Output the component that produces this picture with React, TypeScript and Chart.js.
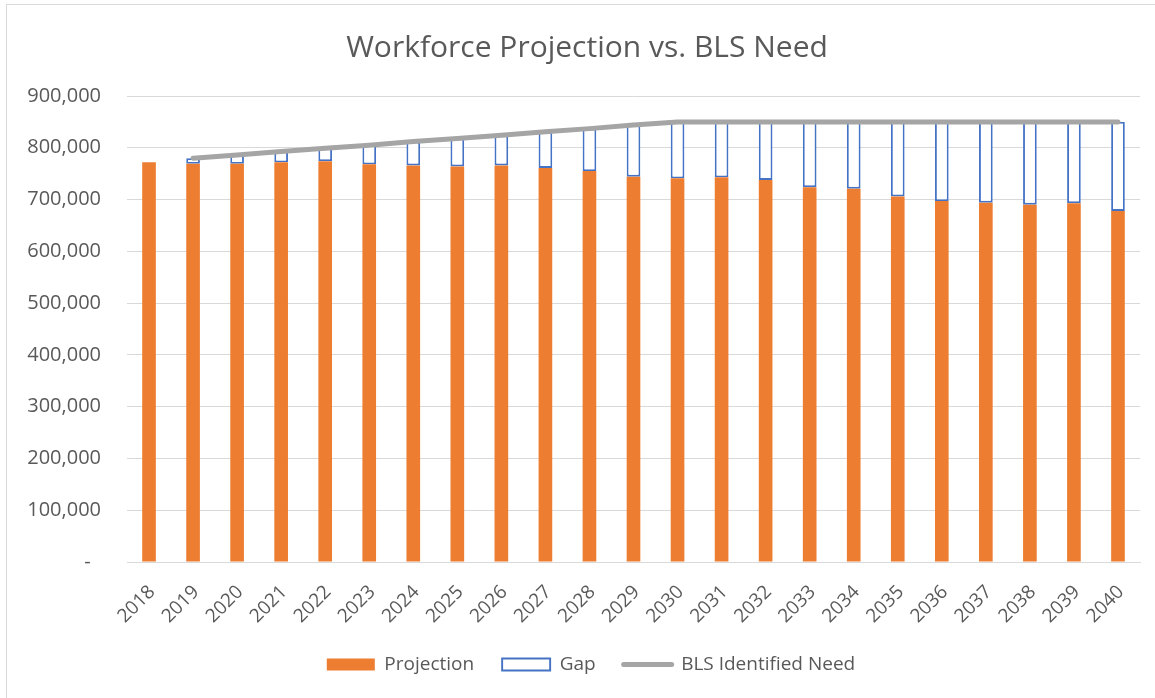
import React, { useEffect, useRef } from "react";
import { Chart, registerables } from "chart.js";

Chart.register(...registerables);

const years = [
  "2018", "2019", "2020", "2021", "2022", "2023", "2024", "2025", "2026", "2027", "2028", "2029",
  "2030", "2031", "2032", "2033", "2034", "2035", "2036", "2037", "2038", "2039", "2040",
];

const projection = [
  772000, 769000, 769000, 772000, 774000, 768000, 766000, 764000, 766000, 761000, 755000, 744000,
  741000, 743000, 738000, 724000, 721000, 706000, 697000, 694000, 690000, 693000, 678000,
];

const gap = [
  null, 11000, 17000, 21000, 25000, 37000, 46000, 54000, 58000, 70000, 82000, 100000,
  109000, 107000, 112000, 126000, 129000, 144000, 153000, 156000, 160000, 157000, 172000,
];

const blsNeed = [
  null, 780000, 786000, 793000, 799000, 805000, 812000, 818000, 824000, 831000, 837000, 844000,
  850000, 850000, 850000, 850000, 850000, 850000, 850000, 850000, 850000, 850000, 850000,
];

const seriesNames = ["Projection", "Gap", "BLS Identified Need"];
const yMax = 900000;
const yStep = 100000;

const TEXT = "#595959";
const GRID = "#D9D9D9";
const ORANGE = "#ED7D31";
const BLUE = "#4472C4";
const GRAY = "#A5A5A5";
const FONT = "'Open Sans', 'Noto Sans', sans-serif";

const shiftBlocks = {
  id: "shiftBlocks",
  afterLayout(chart: any) {
    if (chart.legend) {
      chart.legend.left += 21;
      chart.legend.right += 21;
    }
    if (chart.titleBlock) {
      chart.titleBlock.left += 17;
      chart.titleBlock.right += 17;
    }
  },
};

export default function App() {
  const ref = useRef<HTMLCanvasElement | null>(null);

  useEffect(() => {
    if (!ref.current) return;
    const chart = new Chart(ref.current, {
      type: "bar",
      plugins: [shiftBlocks],
      data: {
        labels: years,
        datasets: [
          {
            type: "line",
            label: seriesNames[2],
            data: blsNeed,
            borderColor: GRAY,
            backgroundColor: GRAY,
            borderWidth: 5,
            borderCapStyle: "round",
            borderJoinStyle: "round",
            pointRadius: 0,
            pointHoverRadius: 0,
            stack: "need",
            order: 0,
          } as any,
          {
            label: seriesNames[0],
            data: projection,
            backgroundColor: ORANGE,
            borderWidth: 0,
            stack: "bars",
            order: 1,
            categoryPercentage: 1,
            barPercentage: 0.31,
          },
          {
            label: seriesNames[1],
            data: gap,
            backgroundColor: "#FFFFFF",
            borderColor: BLUE,
            borderWidth: 1.9,
            borderSkipped: false,
            stack: "bars",
            order: 1,
            categoryPercentage: 1,
            barPercentage: 0.31,
          },
        ],
      },
      options: {
        responsive: false,
        animation: false,
        layout: { padding: { left: 0, right: 15, top: 0, bottom: 14 } },
        plugins: {
          tooltip: { enabled: false },
          title: {
            display: true,
            text: "Workforce Projection vs. BLS Need",
            color: TEXT,
            font: { family: FONT, size: 30, weight: "normal" },
            padding: { top: 30, bottom: 30 },
          },
          legend: {
            position: "bottom",
            labels: {
              color: TEXT,
              font: { family: FONT, size: 19 },
              usePointStyle: true,
              pointStyleWidth: 48,
              boxHeight: 12,
              padding: 28,
              generateLabels: (c: any) => {
                const order = [1, 2, 0];
                return order.map((i) => {
                  const ds: any = c.data.datasets[i];
                  if (i === 0) {
                    return {
                      text: ds.label, datasetIndex: i, hidden: false,
                      fillStyle: GRAY, strokeStyle: GRAY, lineWidth: 5,
                      pointStyle: "line", lineCap: "round", fontColor: TEXT,
                    };
                  }
                  if (i === 1) {
                    return {
                      text: ds.label, datasetIndex: i, hidden: false,
                      fillStyle: ORANGE, strokeStyle: ORANGE, lineWidth: 0,
                      pointStyle: "rect", fontColor: TEXT,
                    };
                  }
                  return {
                    text: ds.label, datasetIndex: i, hidden: false,
                    fillStyle: "#FFFFFF", strokeStyle: BLUE, lineWidth: 1.9,
                    pointStyle: "rect", fontColor: TEXT,
                  };
                });
              },
            },
          },
        },
        scales: {
          x: {
            stacked: true,
            grid: { display: false, drawTicks: false },
            border: { display: true, color: GRID, width: 1 },
            ticks: {
              color: TEXT,
              font: { family: FONT, size: 19 },
              maxRotation: 45,
              minRotation: 45,
              autoSkip: false,
              padding: 19,
              labelOffset: 3,
            },
            afterFit: (s: any) => {
              s.height = 65;
            },
          },
          y: {
            stacked: true,
            min: 0,
            max: yMax,
            grid: { color: GRID, lineWidth: 1, drawTicks: false },
            border: { display: false },
            ticks: {
              stepSize: yStep,
              color: TEXT,
              font: { family: FONT, size: 20 },
              padding: 26,
              callback: (v: any) => (Number(v) === 0 ? "-  " : Number(v).toLocaleString("en-US")),
            },
            afterFit: (s: any) => {
              s.width = 127;
            },
          },
        },
      } as any,
    });
    return () => chart.destroy();
  }, []);

  return (
    <div style={{ position: "absolute", left: 0, top: 0, width: 1155, height: 698, background: "#FFFFFF", overflow: "hidden" }}>
      <div
        style={{
          position: "absolute", left: 6, top: 4, width: 1149, height: 694,
          borderLeft: `1px solid ${GRID}`, borderTop: `1px solid ${GRID}`, boxSizing: "border-box",
        }}
      />
      <canvas ref={ref} width={1155} height={698} style={{ position: "absolute", left: 0, top: 0 }} />
    </div>
  );
}
